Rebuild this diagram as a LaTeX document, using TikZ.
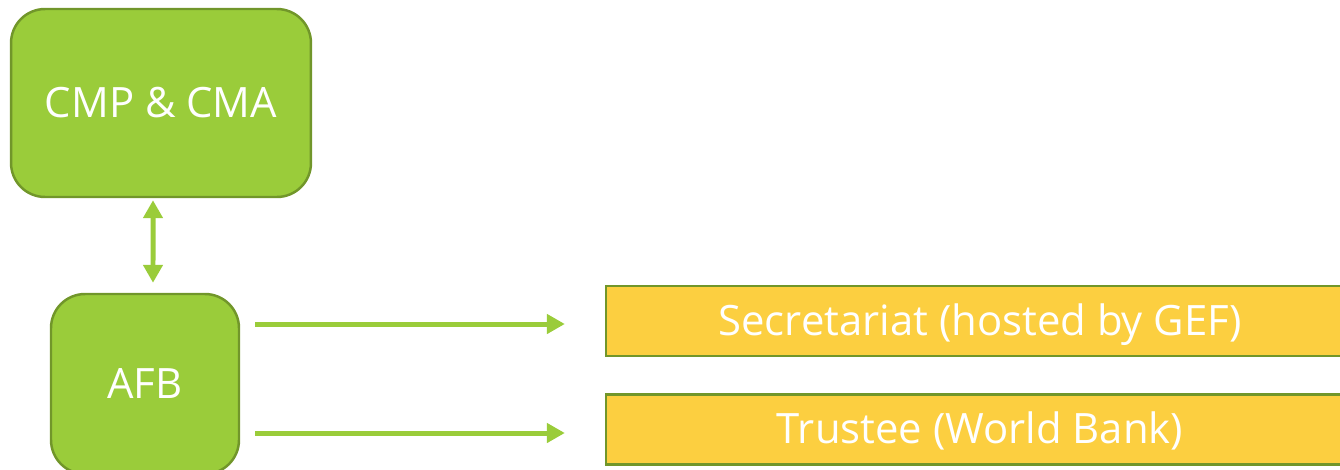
\documentclass[tikz,border=0pt]{standalone}
\usepackage{fontspec}
\setmainfont{Open Sans}
\usetikzlibrary{arrows.meta}

\definecolor{leafgreen}{RGB}{154,204,58}
\definecolor{leafedge}{RGB}{113,150,42}
\definecolor{sunyellow}{RGB}{252,207,64}

\begin{document}
\begin{tikzpicture}[x=0.02cm, y=-0.02cm, >={Triangle[width=0.38cm,length=0.36cm]},
  label text/.style={text=white, text height=16pt, text depth=0pt, font=\fontsize{23.8}{28}\selectfont},
  body/.style={draw=leafedge, line width=1.4pt, fill=leafgreen, rounded corners=0.68cm, label text},
  office/.style={draw=leafedge, line width=1.4pt, fill=sunyellow, minimum width=14.96cm, minimum height=1.4cm, label text},
  link/.style={draw=leafgreen, line width=0.1cm}]

\useasboundingbox (0,0) rectangle (1340,470);
\clip (0,0) rectangle (1340,470);

%\draw[xstep=1cm,ystep=1cm,color=gray!20] (0,0) grid (1340,470);

\node[body, minimum width=6cm, minimum height=3.76cm] (cmp) at (161,103) {CMP \& CMA};
\node[body, minimum width=3.76cm, minimum height=3.6cm] (afb) at (145,384) {AFB};

\node[office] (sec) at (980,321) {Secretariat (hosted by GEF)};
\node[office] (trustee) at (980,429.5) {Trustee (World Bank)};

\draw[link, <->, shorten <=0.04cm, shorten >=0.2cm] ([xshift=-0.16cm]cmp.south) -- ([xshift=0.16cm]afb.north);

\draw[link, ->, shorten <=0.3cm, shorten >=0.8cm] ([yshift=-0.06cm]afb.east |- sec.west) -- ([yshift=-0.06cm]sec.west);
\draw[link, ->, shorten <=0.3cm, shorten >=0.8cm] ([yshift=-0.07cm]afb.east |- trustee.west) -- ([yshift=-0.07cm]trustee.west);

\end{tikzpicture}
\end{document}
